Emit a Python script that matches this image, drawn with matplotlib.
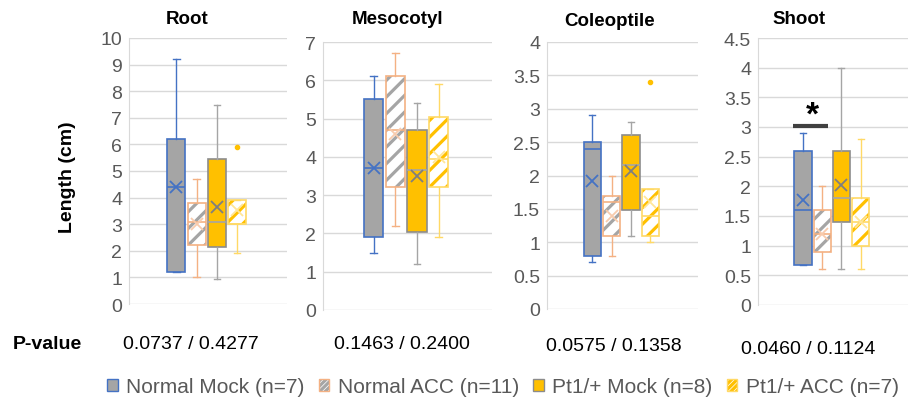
import matplotlib
matplotlib.use('Agg')
import matplotlib.pyplot as plt
from matplotlib.patches import Patch, PathPatch
from matplotlib.ticker import MultipleLocator, FuncFormatter

plt.rcParams['font.family'] = ['Liberation Sans', 'DejaVu Sans']
plt.rcParams['hatch.linewidth'] = 2.3

organs = ["Root", "Mesocotyl", "Coleoptile", "Shoot"]
series = ["Normal Mock (n=7)", "Normal ACC (n=11)", "Pt1/+ Mock (n=8)", "Pt1/+ ACC (n=7)"]
p_values = ["0.0737 / 0.4277", "0.1463 / 0.2400", "0.0575 / 0.1358", "0.0460 / 0.1124"]
y_max = [10, 7, 4, 4.5]
y_step = [1, 1, 0.5, 0.5]

# rows = series, columns = organs
q1 = [[1.2, 1.9, 0.8, 0.68],
      [2.2, 3.2, 1.1, 0.9],
      [2.15, 2.05, 1.48, 1.4],
      [3.0, 3.2, 1.1, 1.0]]
med = [[4.4, 3.7, 2.4, 1.6],
       [3.1, 4.7, 1.6, 1.2],
       [3.1, 3.65, 2.15, 1.8],
       [3.0, 3.95, 1.4, 1.4]]
q3 = [[6.2, 5.5, 2.5, 2.6],
      [3.8, 6.1, 1.7, 1.6],
      [5.45, 4.7, 2.6, 2.6],
      [3.9, 5.05, 1.8, 1.8]]
whislo = [[1.2, 1.5, 0.7, 0.68],
          [1.0, 2.2, 0.8, 0.6],
          [0.95, 1.2, 1.1, 0.6],
          [1.9, 1.9, 1.0, 0.6]]
whishi = [[9.2, 6.1, 2.9, 2.9],
          [4.7, 6.7, 2.0, 2.0],
          [7.5, 5.4, 2.8, 4.0],
          [3.9, 5.9, 1.8, 2.8]]
means = [[4.4, 3.7, 1.92, 1.77],
         [3.0, 4.6, 1.4, 1.2],
         [3.65, 3.5, 2.06, 2.02],
         [3.55, 4.0, 1.6, 1.4]]
fliers = [[[], [], [], []],
          [[], [], [], []],
          [[], [], [], []],
          [[5.9], [], [3.4], []]]

# styling per series: face, hatch colour, edge, whisker
face = ['#A5A5A5', 'white', '#FFC000', 'white']
hatch_col = [None, '#A5A5A5', None, '#FFC000']
edge = ['#4472C4', '#F4B183', '#8C8C8C', '#FFD966']
line_col = ['#4472C4', '#F4B183', '#A5A5A5', '#FFD966']
mean_col = ['#4472C4', '#F8CBAD', '#7F7F7F', '#FFE699']

W, H = 916, 402
fig = plt.figure(figsize=(W / 100, H / 100), dpi=100)

# axes boxes in pixels (left, top, right, bottom)
panels = [(129, 39, 287, 305), (323, 43, 492, 311), (547, 43, 698, 310), (758, 39, 908, 306)]
title_x = [187, 398, 610, 799]
title_y = [20, 20, 22, 19]
pval_x = [191, 402, 614, 808]
pval_y = [345, 345, 347, 350]
positions = [0.30, 0.428, 0.556, 0.684]

for j, organ in enumerate(organs):
    l, t, r, b = panels[j]
    ax = fig.add_axes([l / W, 1 - b / H, (r - l) / W, (b - t) / H])
    for i in range(len(series)):
        stats = [dict(q1=q1[i][j], med=med[i][j], q3=q3[i][j], whislo=whislo[i][j],
                      whishi=whishi[i][j], mean=means[i][j], fliers=fliers[i][j])]
        art = ax.bxp(stats, positions=[positions[i]], widths=0.115, capwidths=0.04,
                     patch_artist=True, showmeans=True, manage_ticks=False,
                     boxprops=dict(facecolor=face[i], edgecolor=edge[i], linewidth=1.2),
                     whiskerprops=dict(color=line_col[i], linewidth=1),
                     capprops=dict(color=line_col[i], linewidth=1),
                     medianprops=dict(color=line_col[i], linewidth=1.2),
                     meanprops=dict(marker='x', markeredgecolor=mean_col[i],
                                    markersize=8, markeredgewidth=1.3),
                     flierprops=dict(marker='o', markerfacecolor='#FFC000',
                                     markeredgecolor='#FFC000', markersize=3))
        if hatch_col[i]:
            box = art['boxes'][0]
            box.set_edgecolor(hatch_col[i])
            box.set_hatch('//')
            box.set_linewidth(0)
            ax.add_patch(PathPatch(box.get_path(), facecolor='none',
                                   edgecolor=edge[i], linewidth=1.2, zorder=box.get_zorder() + 0.1))
    ax.set_xlim(0, 1)
    ax.set_ylim(0, y_max[j])
    ax.yaxis.set_major_locator(MultipleLocator(y_step[j]))
    ax.yaxis.set_major_formatter(FuncFormatter(lambda v, p: f"{v:g}"))
    ax.set_xticks([])
    ax.tick_params(axis='y', length=0, labelsize=14, labelcolor='#595959', pad=5)
    ax.yaxis.grid(True, color='#D9D9D9', linewidth=1)
    ax.set_axisbelow(True)
    for s in ['top', 'right', 'bottom']:
        ax.spines[s].set_visible(False)
    ax.spines['left'].set_color('#D9D9D9')
    fig.text(title_x[j] / W, 1 - title_y[j] / H, organ, ha='center', va='center',
             fontsize=13.5, fontweight='bold')
    fig.text(pval_x[j] / W, 1 - pval_y[j] / H, p_values[j], ha='center', va='center',
             fontsize=14)
    if organ == "Shoot":
        ax.plot([0.233, 0.467], [3.02, 3.02], color='#404040', linewidth=3, solid_capstyle='butt')
        ax.text(0.36, 3.05, "*", ha='center', va='baseline', fontsize=24, fontweight='bold')

fig.text(68 / W, 1 - 177 / H, "Length (cm)", rotation=90, ha='center', va='center',
         fontsize=14, fontweight='bold')
fig.text(47 / W, 1 - 345 / H, "P-value", ha='center', va='center',
         fontsize=14, fontweight='bold')

handles = []
for i in range(len(series)):
    if hatch_col[i]:
        handles.append((Patch(facecolor='white', edgecolor=hatch_col[i], hatch='//////', linewidth=0),
                        Patch(facecolor='none', edgecolor=edge[i], linewidth=1)))
    else:
        handles.append(Patch(facecolor=face[i], edgecolor=edge[i], linewidth=1))
fig.legend(handles, series, loc='center', bbox_to_anchor=(503 / W, 1 - 388 / H), ncol=4,
           frameon=False, fontsize=15, handlelength=0.5, handleheight=0.5,
           handletextpad=0.4, columnspacing=0.7, labelcolor='#595959')

plt.savefig("out.png", dpi=100)
